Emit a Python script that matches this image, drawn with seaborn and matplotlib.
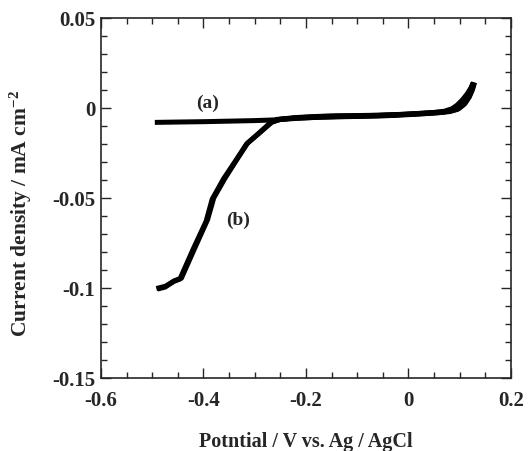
import numpy as np
import pandas as pd
import seaborn as sns
import matplotlib.pyplot as plt
from matplotlib.ticker import MultipleLocator

# curve (a): forward and reverse scan
a_fwd_x = [-0.495, -0.45, -0.40, -0.35, -0.30, -0.26, -0.22, -0.18, -0.14, -0.10, -0.06, -0.02, 0.02, 0.05, 0.07, 0.085, 0.095, 0.105, 0.115, 0.122, 0.126]
a_fwd_y = [-0.0080, -0.0078, -0.0076, -0.0073, -0.0070, -0.0066, -0.0058, -0.0052, -0.0049, -0.0047, -0.0045, -0.0040, -0.0034, -0.0028, -0.0022, -0.0008, 0.0012, 0.0040, 0.0075, 0.0110, 0.0140]
a_rev_x = [0.128, 0.124, 0.118, 0.108, 0.095, 0.08, 0.06, 0.02, -0.02, -0.06, -0.10, -0.14, -0.18, -0.22, -0.26]
a_rev_y = [0.0140, 0.0100, 0.0060, 0.0020, -0.0008, -0.0020, -0.0026, -0.0032, -0.0038, -0.0042, -0.0046, -0.0048, -0.0052, -0.0056, -0.0064]

# curve (b): forward and reverse scan
b_fwd_x = [-0.490, -0.475, -0.459, -0.446, -0.420, -0.395, -0.383, -0.361, -0.335, -0.316, -0.293, -0.267, -0.251, -0.22, -0.18, -0.14, -0.10, -0.06, -0.02, 0.02, 0.05, 0.07, 0.085, 0.095, 0.105, 0.115, 0.122, 0.127]
b_fwd_y = [-0.1006, -0.0995, -0.0965, -0.0950, -0.0783, -0.0630, -0.0506, -0.0394, -0.0283, -0.0200, -0.0144, -0.0080, -0.0062, -0.0053, -0.0047, -0.0044, -0.0043, -0.0041, -0.0037, -0.0031, -0.0025, -0.0018, -0.0004, 0.0016, 0.0044, 0.0080, 0.0112, 0.0142]
b_rev_x = [0.129, 0.125, 0.119, 0.11, 0.098, 0.082, 0.06, 0.02, -0.02, -0.06, -0.10, -0.14, -0.18, -0.22, -0.25, -0.268, -0.292, -0.314, -0.333, -0.358, -0.380, -0.392, -0.417, -0.443, -0.457, -0.474, -0.492]
b_rev_y = [0.0142, 0.0104, 0.0064, 0.0024, -0.0004, -0.0017, -0.0023, -0.0030, -0.0036, -0.0040, -0.0042, -0.0044, -0.0048, -0.0055, -0.0064, -0.0078, -0.0140, -0.0195, -0.0278, -0.0390, -0.0500, -0.0620, -0.0778, -0.0945, -0.0960, -0.0990, -0.1003]

x_ticks = [-0.6, -0.4, -0.2, 0, 0.2]
x_labels = ['-0.6', '-0.4', '-0.2', '0', '0.2']
y_ticks = [-0.15, -0.1, -0.05, 0, 0.05]
y_labels = ['-0.15', '-0.1', '-0.05', '0', '0.05']

sns.set_style("ticks")
plt.rcParams['font.family'] = ['Liberation Serif', 'DejaVu Serif']
plt.rcParams['font.weight'] = 'bold'
plt.rcParams['mathtext.fontset'] = 'custom'
plt.rcParams['mathtext.rm'] = 'Liberation Serif:bold'
plt.rcParams['mathtext.default'] = 'rm'

fig = plt.figure(figsize=(5.29, 4.52), dpi=100)
ax = fig.add_axes([101 / 529, 1 - 379 / 452, 410 / 529, 360 / 452])

lw = 3.6
for xs, ys in [(a_fwd_x, a_fwd_y), (a_rev_x, a_rev_y), (b_fwd_x, b_fwd_y), (b_rev_x, b_rev_y)]:
    df = pd.DataFrame({'x': xs, 'y': ys})
    sns.lineplot(data=df, x='x', y='y', sort=False, color='black', lw=lw,
                 estimator=None, ax=ax, solid_joinstyle='round', solid_capstyle='butt')

ax.set_xlim(-0.6, 0.2)
ax.set_ylim(-0.15, 0.05)
ax.set_xticks(x_ticks)
ax.set_xticklabels(x_labels)
ax.set_yticks(y_ticks)
ax.set_yticklabels(y_labels)
ax.xaxis.set_minor_locator(MultipleLocator(0.05))
ax.yaxis.set_minor_locator(MultipleLocator(0.01))
ax.tick_params(which='both', direction='in', top=True, right=True, width=1.0,
               labelsize=15)
ax.tick_params(axis='x', pad=9)
ax.tick_params(axis='y', pad=4)
ax.tick_params(which='major', length=7)
ax.tick_params(which='minor', length=4)
for s in ax.spines.values():
    s.set_linewidth(1.2)

ax.set_xlabel('Potntial / V vs. Ag / AgCl', fontsize=14.5, fontweight='bold')
ax.xaxis.set_label_coords(0.5, -0.147)
ax.set_ylabel('Current density / mA cm$^{-2}$', fontsize=15.5, fontweight='bold')
ax.yaxis.set_label_coords(-0.163, 0.46)

ax.text(-0.393, 0.0033, '(a)', fontsize=14, fontweight='bold', ha='center', va='center')
ax.text(-0.333, -0.0617, '(b)', fontsize=14, fontweight='bold', ha='center', va='center')

fig.savefig('out.png', dpi=100)
